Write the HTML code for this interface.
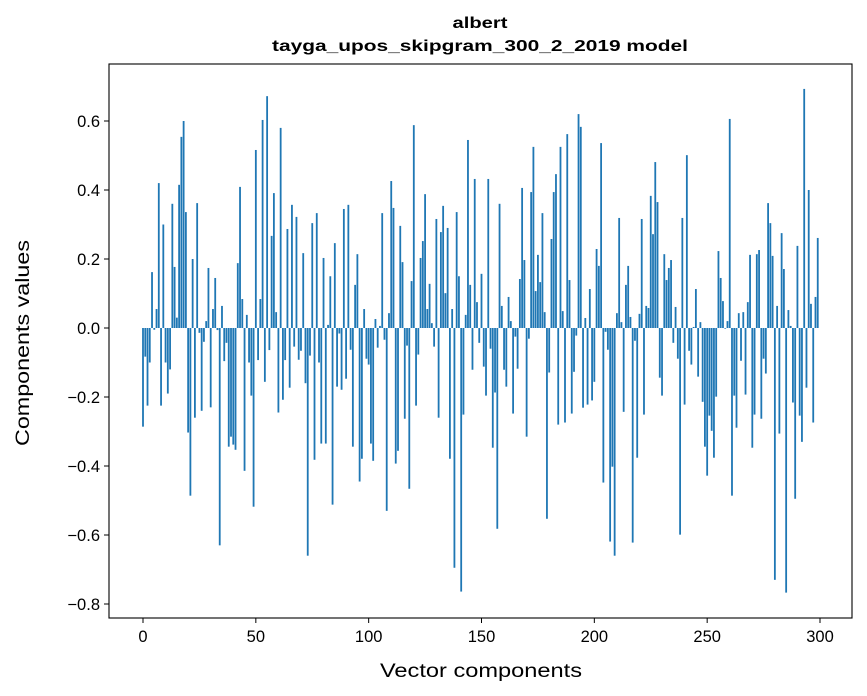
<!DOCTYPE html>
<html><head><meta charset="utf-8">
<style>
html,body{margin:0;padding:0;background:#fff;}
svg{display:block;font-family:"Liberation Sans","DejaVu Sans",sans-serif;}
</style></head>
<body>
<svg id="chart" width="867" height="696" viewBox="0 0 867 696" xmlns="http://www.w3.org/2000/svg">
<rect width="867" height="696" fill="#fff"/>
<text x="480" y="28" text-anchor="middle" font-size="16" font-weight="bold" textLength="55" lengthAdjust="spacingAndGlyphs">albert</text>
<text x="480" y="51" text-anchor="middle" font-size="16" font-weight="bold" textLength="416" lengthAdjust="spacingAndGlyphs">tayga_upos_skipgram_300_2_2019 model</text>
<g id="bars"></g>
<g id="axes"></g>
<text x="481" y="677" text-anchor="middle" font-size="19" textLength="202" lengthAdjust="spacingAndGlyphs">Vector components</text>
<text transform="translate(29,343) rotate(-90)" text-anchor="middle" font-size="19" textLength="206" lengthAdjust="spacingAndGlyphs">Components values</text>
</svg>
<script>
const values = [
-0.286,-0.083,-0.225,-0.1,0.162,-0.005,0.055,0.42,-0.225,0.3,
-0.1,-0.19,-0.12,0.36,0.177,0.03,0.415,0.554,0.6,0.336,
-0.303,-0.486,0.2,-0.26,0.362,-0.014,-0.24,-0.04,0.02,0.174,
-0.23,0.055,0.145,-0.006,-0.63,0.064,-0.096,-0.043,-0.344,-0.315,
-0.338,-0.353,0.188,0.409,0.084,-0.414,0.038,-0.1,-0.196,-0.518,
0.516,-0.093,0.084,0.603,-0.156,0.672,-0.064,0.267,0.391,0.046,
-0.245,0.58,-0.208,-0.093,0.287,-0.173,0.357,-0.054,0.322,-0.092,
-0.066,0.217,-0.16,-0.66,-0.08,0.304,-0.382,0.333,-0.1,-0.335,
0.203,-0.335,0.009,0.15,-0.512,0.246,-0.17,-0.016,-0.179,0.345,
-0.147,0.357,-0.063,-0.344,0.125,0.214,-0.445,-0.379,0.055,-0.089,
-0.106,-0.335,-0.385,0.026,-0.057,0.006,0.333,-0.034,-0.53,0.043,
0.426,0.348,-0.393,-0.356,0.296,0.191,-0.263,-0.051,-0.466,0.136,
0.588,-0.225,-0.077,0.203,0.252,0.388,0.055,0.128,0.014,-0.054,
0.316,-0.26,0.278,0.354,0.101,0.29,-0.379,0.055,-0.695,0.336,
0.15,-0.764,-0.251,0.038,0.545,0.125,-0.121,0.432,0.075,-0.043,
0.157,-0.112,-0.196,0.432,-0.06,-0.347,-0.187,-0.582,0.36,0.064,
-0.121,-0.17,0.09,0.02,-0.248,-0.025,-0.118,0.142,0.406,0.197,
-0.315,-0.031,0.394,0.525,0.107,0.212,0.133,0.333,0.046,-0.553,
-0.129,0.258,0.394,0.446,-0.28,0.525,0.049,-0.274,0.562,0.139,
-0.248,-0.127,-0.022,0.62,0.583,-0.231,0.029,-0.222,0.113,-0.21,
-0.156,0.229,0.18,0.536,-0.448,-0.011,-0.063,-0.619,-0.402,-0.66,
0.043,0.319,0.017,-0.243,0.125,0.18,0.032,-0.622,-0.037,-0.376,
0.041,0.316,-0.251,0.064,0.058,0.383,0.272,0.481,0.365,-0.144,
-0.196,0.214,0.139,0.174,0.197,-0.043,0.061,-0.089,-0.599,0.319,
-0.222,0.501,-0.066,-0.106,0.003,0.113,-0.141,0.017,-0.214,-0.344,
-0.428,-0.254,-0.298,-0.376,-0.199,0.223,0.145,0.078,-0.002,0.02,
0.606,-0.486,-0.196,-0.289,0.043,-0.095,0.046,-0.193,0.075,0.212,
-0.347,-0.251,0.214,0.226,-0.263,-0.089,-0.132,0.362,0.304,0.209,
-0.73,0.064,-0.306,0.275,0.171,-0.767,0.052,0.006,-0.216,-0.495,
0.238,-0.254,-0.33,0.693,-0.173,0.4,0.07,-0.274,0.09,0.261
];
const xTicks = [0,50,100,150,200,250,300];
const yTicks = [-0.8,-0.6,-0.4,-0.2,0.0,0.2,0.4,0.6];
const yTickLabels = ["\u22120.8","\u22120.6","\u22120.4","\u22120.2","0.0","0.2","0.4","0.6"];

const NS="http://www.w3.org/2000/svg";
const L=109,R=852,T=64,B=618;
function xs(v){return 143 + v*(820-143)/300;}
function ys(v){return 328 - v*345;}
const bars=document.getElementById('bars');
const bw=0.8*(820-143)/300;
values.forEach((v,i)=>{
  const r=document.createElementNS(NS,'rect');
  const y0=ys(0), y1=ys(v);
  r.setAttribute('x',xs(i)-bw/2);
  r.setAttribute('width',bw);
  r.setAttribute('y',Math.min(y0,y1));
  r.setAttribute('height',Math.max(Math.abs(y1-y0),0.3));
  r.setAttribute('fill','#1f77b4');
  
  
  bars.appendChild(r);
});
const axes=document.getElementById('axes');
const frame=document.createElementNS(NS,'rect');
frame.setAttribute('x',L);frame.setAttribute('y',T);
frame.setAttribute('width',R-L);frame.setAttribute('height',B-T);
frame.setAttribute('fill','none');frame.setAttribute('stroke','#000');frame.setAttribute('stroke-width','1.1');


axes.appendChild(frame);
xTicks.forEach(t=>{
  const x=xs(t);
  const ln=document.createElementNS(NS,'line');
  ln.setAttribute('x1',x);ln.setAttribute('x2',x);ln.setAttribute('y1',B);ln.setAttribute('y2',B+5);
  ln.setAttribute('stroke','#000');
  
  
  axes.appendChild(ln);
  const tx=document.createElementNS(NS,'text');
  tx.setAttribute('x',x);tx.setAttribute('y',B+24);tx.setAttribute('text-anchor','middle');tx.setAttribute('font-size','16.5');
  tx.textContent=t;
  
  
  axes.appendChild(tx);
});
yTicks.forEach((t,i)=>{
  const y=ys(t);
  const ln=document.createElementNS(NS,'line');
  ln.setAttribute('x1',L-5);ln.setAttribute('x2',L);ln.setAttribute('y1',y);ln.setAttribute('y2',y);
  ln.setAttribute('stroke','#000');
  
  
  axes.appendChild(ln);
  const tx=document.createElementNS(NS,'text');
  tx.setAttribute('x',L-9);tx.setAttribute('y',y+6);tx.setAttribute('text-anchor','end');tx.setAttribute('font-size','16.5');
  tx.textContent=yTickLabels[i];
  
  
  axes.appendChild(tx);
});
</script>
</body></html>
